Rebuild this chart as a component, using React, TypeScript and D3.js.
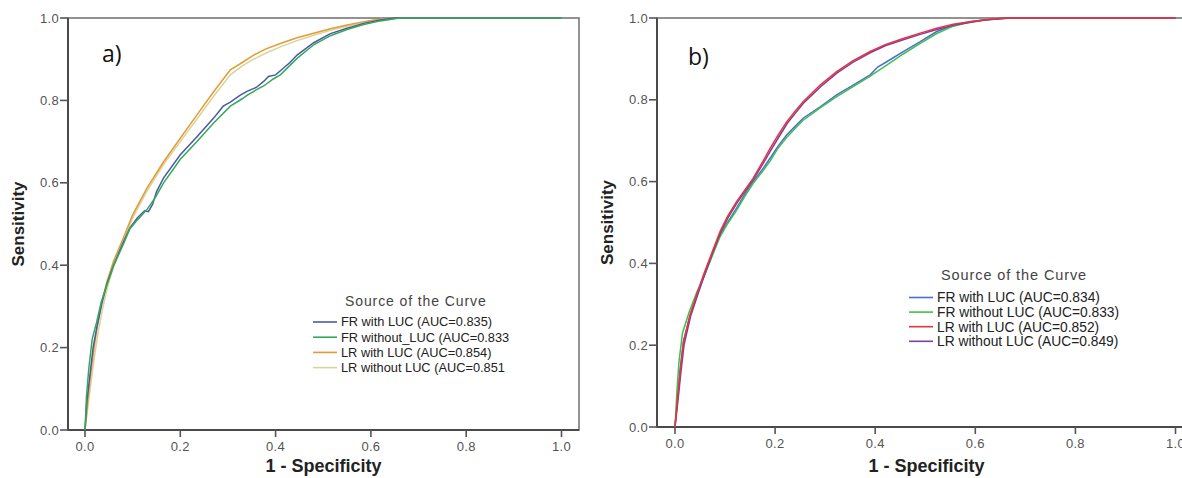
import React from "react";
import * as d3 from "d3";

type Pt = [number, number];

// ---------- Panel a data ----------
const A_FR_WITH: Pt[] = [[0,0],[0.004,0.07],[0.01,0.13],[0.017,0.2],[0.025,0.25],[0.035,0.305],[0.046,0.355],[0.06,0.4],[0.08,0.455],[0.094,0.49],[0.11,0.515],[0.125,0.532],[0.133,0.53],[0.142,0.548],[0.15,0.578],[0.165,0.612],[0.2,0.668],[0.235,0.712],[0.27,0.757],[0.29,0.786],[0.305,0.796],[0.325,0.812],[0.34,0.822],[0.36,0.832],[0.375,0.846],[0.385,0.858],[0.4,0.862],[0.41,0.872],[0.43,0.892],[0.445,0.91],[0.48,0.94],[0.515,0.962],[0.55,0.975],[0.585,0.987],[0.62,0.995],[0.65,1],[1,1]];
const A_FR_WITHOUT: Pt[] = [[0,0],[0.003,0.08],[0.008,0.15],[0.015,0.22],[0.024,0.26],[0.034,0.31],[0.046,0.352],[0.06,0.398],[0.08,0.45],[0.094,0.488],[0.11,0.51],[0.13,0.535],[0.148,0.565],[0.165,0.6],[0.2,0.657],[0.235,0.7],[0.27,0.745],[0.305,0.786],[0.33,0.804],[0.34,0.812],[0.36,0.826],[0.375,0.835],[0.395,0.852],[0.41,0.862],[0.43,0.885],[0.445,0.902],[0.48,0.935],[0.515,0.957],[0.55,0.972],[0.585,0.984],[0.62,0.993],[0.66,1],[1,1]];
const A_LR_WITH: Pt[] = [[0,0],[0.005,0.06],[0.01,0.117],[0.018,0.19],[0.025,0.247],[0.035,0.31],[0.046,0.36],[0.06,0.41],[0.08,0.465],[0.1,0.522],[0.13,0.587],[0.165,0.651],[0.2,0.708],[0.235,0.765],[0.27,0.821],[0.305,0.874],[0.33,0.892],[0.354,0.91],[0.38,0.925],[0.41,0.938],[0.445,0.952],[0.48,0.963],[0.515,0.974],[0.55,0.983],[0.58,0.99],[0.606,0.995],[0.64,0.999],[0.66,1],[1,1]];
const A_LR_WITHOUT: Pt[] = [[0,0],[0.006,0.055],[0.012,0.11],[0.02,0.18],[0.028,0.24],[0.038,0.3],[0.048,0.35],[0.062,0.405],[0.082,0.46],[0.1,0.515],[0.13,0.58],[0.165,0.645],[0.2,0.7],[0.235,0.755],[0.27,0.81],[0.305,0.862],[0.33,0.884],[0.354,0.9],[0.38,0.915],[0.41,0.93],[0.445,0.945],[0.48,0.958],[0.515,0.97],[0.55,0.98],[0.58,0.988],[0.606,0.994],[0.64,0.998],[0.67,1],[1,1]];

// ---------- Panel b data ----------
const B_FR_WITH: Pt[] = [[0,0],[0.005,0.07],[0.01,0.14],[0.017,0.21],[0.03,0.272],[0.045,0.325],[0.057,0.368],[0.075,0.425],[0.09,0.47],[0.105,0.5],[0.123,0.535],[0.14,0.57],[0.156,0.6],[0.175,0.63],[0.19,0.657],[0.205,0.685],[0.223,0.714],[0.24,0.735],[0.256,0.755],[0.29,0.783],[0.323,0.812],[0.356,0.836],[0.39,0.861],[0.405,0.88],[0.423,0.893],[0.456,0.918],[0.49,0.942],[0.523,0.967],[0.556,0.983],[0.59,0.991],[0.62,0.996],[0.66,1],[1,1]];
const B_FR_WITHOUT: Pt[] = [[0,0],[0.004,0.09],[0.008,0.16],[0.015,0.23],[0.028,0.28],[0.043,0.328],[0.057,0.365],[0.075,0.42],[0.09,0.465],[0.105,0.497],[0.123,0.53],[0.14,0.565],[0.156,0.595],[0.175,0.625],[0.19,0.65],[0.205,0.68],[0.223,0.708],[0.24,0.73],[0.256,0.75],[0.29,0.78],[0.323,0.808],[0.356,0.832],[0.39,0.858],[0.423,0.885],[0.456,0.912],[0.49,0.938],[0.523,0.962],[0.556,0.98],[0.59,0.99],[0.62,0.996],[0.67,1],[1,1]];
const B_LR_WITH: Pt[] = [[0,0],[0.005,0.07],[0.01,0.13],[0.017,0.209],[0.03,0.274],[0.045,0.33],[0.057,0.372],[0.075,0.43],[0.09,0.478],[0.105,0.515],[0.123,0.551],[0.14,0.58],[0.156,0.608],[0.175,0.648],[0.19,0.681],[0.205,0.712],[0.223,0.746],[0.24,0.772],[0.256,0.795],[0.29,0.836],[0.323,0.869],[0.355,0.895],[0.39,0.918],[0.42,0.935],[0.456,0.95],[0.49,0.963],[0.523,0.975],[0.556,0.985],[0.589,0.991],[0.62,0.996],[0.66,1],[1,1]];
const B_LR_WITHOUT: Pt[] = [[0,0],[0.006,0.065],[0.011,0.125],[0.018,0.2],[0.031,0.27],[0.046,0.326],[0.058,0.368],[0.076,0.428],[0.091,0.475],[0.106,0.512],[0.124,0.548],[0.141,0.578],[0.157,0.606],[0.176,0.644],[0.191,0.676],[0.206,0.706],[0.224,0.742],[0.241,0.768],[0.257,0.792],[0.291,0.832],[0.324,0.866],[0.356,0.892],[0.39,0.915],[0.42,0.932],[0.456,0.947],[0.49,0.96],[0.523,0.972],[0.556,0.982],[0.589,0.989],[0.62,0.995],[0.67,1],[1,1]];

const TICKS = [0, 0.2, 0.4, 0.6, 0.8, 1.0];

const A_LABELS = ["FR with LUC (AUC=0.835)", "FR without_LUC (AUC=0.833", "LR with LUC (AUC=0.854)", "LR without LUC (AUC=0.851"];
const B_LABELS = ["FR with LUC (AUC=0.834)", "FR without LUC (AUC=0.833)", "LR with LUC (AUC=0.852)", "LR without LUC (AUC=0.849)"];

const A_SERIES = [A_FR_WITH, A_FR_WITHOUT, A_LR_WITH, A_LR_WITHOUT];
const B_SERIES = [B_FR_WITH, B_FR_WITHOUT, B_LR_WITH, B_LR_WITHOUT];
const A_COLORS = ["#4b58a6", "#34a85a", "#e39b34", "#d8d49a"];
const B_COLORS = ["#4d6bd6", "#3fc04c", "#e8333c", "#7d3f9e"];
// draw order (which series is on top)
const A_ORDER = [3, 2, 0, 1];
const B_ORDER = [0, 1, 3, 2];

const FONT = "'Liberation Sans', Arial, sans-serif";

type PanelProps = {
  x0: number; x1: number; frameL: number; frameR: number; yTop: number; yBot: number;
  series: Pt[][]; colors: string[]; order: number[]; labels: string[]; tag: string;
  tagX: number; tagY: number; yTitleX: number; xTitleY: number; xLabelY: number;
  legX: number; legTitleY: number; legRowY: number; legStep: number; legFont: number; legTitleFont: number;
};

function Panel(p: PanelProps) {
  const x = d3.scaleLinear().domain([0, 1]).range([p.x0, p.x1]);
  const y = d3.scaleLinear().domain([0, 1]).range([p.yBot, p.yTop]);
  const line = d3.line<Pt>().x(d => x(d[0])).y(d => y(d[1])).curve(d3.curveLinear);
  const axisColor = "#555";
  const cx = (p.frameL + p.frameR) / 2;
  return (
    <g>
      {/* frame */}
      <rect x={p.frameL} y={p.yTop} width={p.frameR - p.frameL} height={p.yBot - p.yTop}
        fill="none" stroke="#777" strokeWidth={1.6} />
      <line x1={p.frameL} x2={p.frameL} y1={p.yTop} y2={p.yBot} stroke="#4a4a4a" strokeWidth={2} />
      <line x1={p.frameL} x2={p.frameR} y1={p.yBot} y2={p.yBot} stroke="#4a4a4a" strokeWidth={2} />
      {/* y ticks */}
      {TICKS.map(t => (
        <g key={"y" + t}>
          <line x1={p.frameL - 8} x2={p.frameL} y1={y(t)} y2={y(t)} stroke={axisColor} strokeWidth={1.6} />
          <text x={p.frameL - 9} y={y(t)} dy="0.35em" textAnchor="end" fontFamily={FONT} fontSize={13}
            fill="#555" letterSpacing={0.3}>{t.toFixed(1)}</text>
        </g>
      ))}
      {/* x ticks */}
      {TICKS.map(t => (
        <g key={"x" + t}>
          <line x1={x(t)} x2={x(t)} y1={p.yBot} y2={p.yBot + 7} stroke={axisColor} strokeWidth={1.6} />
          <text x={x(t)} y={p.xLabelY} textAnchor="middle" fontFamily={FONT} fontSize={13}
            fill="#555" letterSpacing={0.3}>{t.toFixed(1)}</text>
        </g>
      ))}
      {/* curves */}
      {p.order.map(i => (
        <path key={"s" + i} d={line(p.series[i]) || ""} fill="none" stroke={p.colors[i]} strokeWidth={1.5} />
      ))}
      {/* axis titles */}
      <text transform={`translate(${p.yTitleX},${(p.yTop + p.yBot) / 2}) rotate(-90)`} textAnchor="middle"
        dy="0.35em" fontFamily={FONT} fontWeight="bold" fontSize={17} fill="#222">Sensitivity</text>
      <text x={cx} y={p.xTitleY} textAnchor="middle" fontFamily={FONT} fontWeight="bold" fontSize={18} fill="#222">1 - Specificity</text>
      {/* panel tag */}
      <text x={p.tagX} y={p.tagY} fontFamily="'Open Sans', 'Noto Sans', sans-serif" fontSize={23} fill="#111">{p.tag}</text>
      {/* legend */}
      <text x={p.legX + 32} y={p.legTitleY} fontFamily={FONT} fontSize={p.legTitleFont} fill="#444" letterSpacing={0.9}>Source of the Curve</text>
      {p.labels.map((lab, i) => (
        <g key={"l" + i}>
          <line x1={p.legX} x2={p.legX + 24} y1={p.legRowY + i * p.legStep} y2={p.legRowY + i * p.legStep}
            stroke={p.colors[i]} strokeWidth={1.6} />
          <text x={p.legX + 28} y={p.legRowY + i * p.legStep} dy="0.35em" fontFamily={FONT} fontSize={p.legFont} fill="#222">{lab}</text>
        </g>
      ))}
    </g>
  );
}

export default function App() {
  return (
    <svg width={1182} height={478} style={{ position: "absolute", left: 0, top: 0, background: "#fff" }}>
      <rect x={0} y={0} width={1182} height={478} fill="#fff" />
      <Panel x0={85} x1={561.5} frameL={68} frameR={579} yTop={18} yBot={430}
        series={A_SERIES} colors={A_COLORS} order={A_ORDER} labels={A_LABELS} tag="a)"
        tagX={102} tagY={62} yTitleX={18} xTitleY={472} xLabelY={451}
        legX={313} legTitleY={306} legRowY={322} legStep={15.2} legFont={12.8} legTitleFont={14} />
      <Panel x0={675} x1={1175.5} frameL={657} frameR={1196} yTop={18} yBot={427}
        series={B_SERIES} colors={B_COLORS} order={B_ORDER} labels={B_LABELS} tag="b)"
        tagX={688} tagY={65} yTitleX={607} xTitleY={472} xLabelY={448}
        legX={909} legTitleY={280} legRowY={297.5} legStep={14.6} legFont={13.8} legTitleFont={14.5} />
    </svg>
  );
}
